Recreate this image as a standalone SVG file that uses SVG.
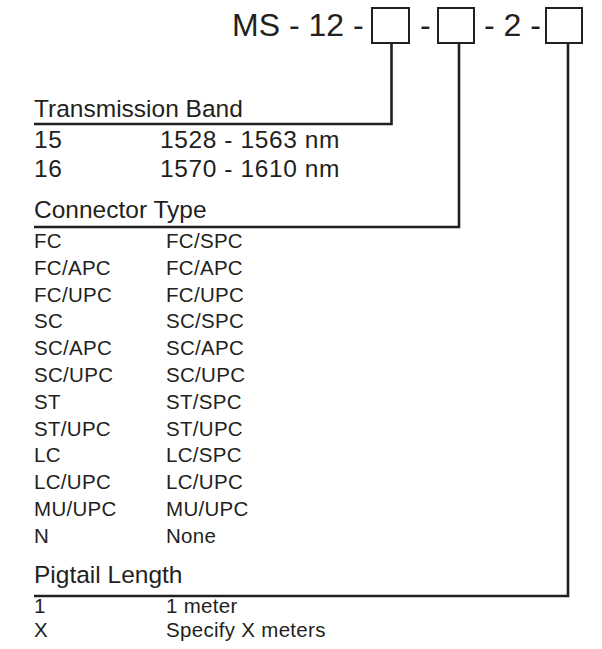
<svg xmlns="http://www.w3.org/2000/svg" width="602" height="649" viewBox="0 0 602 649">
<style>
text{font-family:"Liberation Sans",Arial,sans-serif;fill:#231f20}
.title{font-size:32px}
.head{font-size:24.5px}
.band{font-size:24.5px;letter-spacing:0.6px}
.row{font-size:20.5px;letter-spacing:0.3px}
.box{fill:none;stroke:#231f20;stroke-width:2}
.conn{fill:none;stroke:#231f20;stroke-width:2.6}
</style>
<rect width="602" height="649" fill="#fff"/>
<g id="title">
<text class="title" x="232" y="36">MS - 12 -</text>
<text class="title" x="420" y="36">-</text>
<text class="title" x="484" y="36">- 2 -</text>
</g>
<g id="box1"><rect class="box" x="372" y="8" width="37" height="35"/></g>
<g id="box2"><rect class="box" x="438" y="8" width="36" height="35"/></g>
<g id="box3"><rect class="box" x="546" y="8" width="36" height="35"/></g>
<g id="connectors">
<polyline class="conn" points="391.5,44 391.5,124 34,124"/>
<polyline class="conn" points="459,44 459,227 34,227"/>
<polyline class="conn" points="568,44 568,596 34,596"/>
</g>
<g id="band">
<text class="head" x="34" y="117">Transmission Band</text>
<text class="band" x="34" y="148">15</text><text class="band" x="160" y="148">1528 - 1563 nm</text>
<text class="band" x="34" y="177">16</text><text class="band" x="160" y="177">1570 - 1610 nm</text>
</g>
<g id="connector">
<text class="head" x="34" y="218">Connector Type</text>
<text class="row" x="34" y="248">FC</text><text class="row" x="166" y="248">FC/SPC</text>
<text class="row" x="34" y="274.8">FC/APC</text><text class="row" x="166" y="274.8">FC/APC</text>
<text class="row" x="34" y="301.6">FC/UPC</text><text class="row" x="166" y="301.6">FC/UPC</text>
<text class="row" x="34" y="328.4">SC</text><text class="row" x="166" y="328.4">SC/SPC</text>
<text class="row" x="34" y="355.2">SC/APC</text><text class="row" x="166" y="355.2">SC/APC</text>
<text class="row" x="34" y="382">SC/UPC</text><text class="row" x="166" y="382">SC/UPC</text>
<text class="row" x="34" y="408.8">ST</text><text class="row" x="166" y="408.8">ST/SPC</text>
<text class="row" x="34" y="435.6">ST/UPC</text><text class="row" x="166" y="435.6">ST/UPC</text>
<text class="row" x="34" y="462.4">LC</text><text class="row" x="166" y="462.4">LC/SPC</text>
<text class="row" x="34" y="489.2">LC/UPC</text><text class="row" x="166" y="489.2">LC/UPC</text>
<text class="row" x="34" y="516">MU/UPC</text><text class="row" x="166" y="516">MU/UPC</text>
<text class="row" x="34" y="542.8">N</text><text class="row" x="166" y="542.8">None</text>
</g>
<g id="pigtail">
<text class="head" x="34" y="583">Pigtail Length</text>
<text class="row" x="34" y="613">1</text><text class="row" x="166" y="613">1 meter</text>
<text class="row" x="34" y="637">X</text><text class="row" x="166" y="637">Specify X meters</text>
</g>
</svg>
